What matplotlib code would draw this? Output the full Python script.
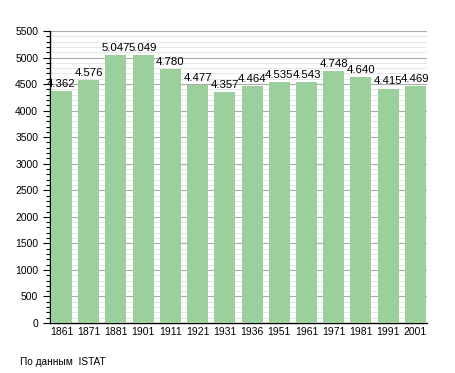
import matplotlib.pyplot as plt
from matplotlib.ticker import MultipleLocator

years = ["1861", "1871", "1881", "1901", "1911", "1921", "1931",
         "1936", "1951", "1961", "1971", "1981", "1991", "2001"]
population = [4362, 4576, 5047, 5049, 4780, 4477, 4357,
              4464, 4535, 4543, 4748, 4640, 4415, 4469]
value_labels = ["4.362", "4.576", "5.047", "5.049", "4.780", "4.477", "4.357",
                "4.464", "4.535", "4.543", "4.748", "4.640", "4.415", "4.469"]

plt.rcParams['font.family'] = ['Liberation Sans', 'DejaVu Sans']

fig = plt.figure(figsize=(4.55, 3.73), dpi=100)
ax = fig.add_axes([0.110, 0.134, 0.828, 0.783])

x = range(len(years))
ax.bar(x, population, width=0.77, color="#9bcf9b", zorder=3)

for i, v in enumerate(population):
    ax.text(i, v + 40, value_labels[i], ha="center", va="bottom", fontsize=8.2, zorder=4)

ax.set_xlim(-0.42, len(years) - 1 + 0.42)
ax.set_ylim(0, 5500)
ax.set_xticks(list(x))
ax.set_xticklabels(years, fontsize=7.5)
ax.yaxis.set_major_locator(MultipleLocator(500))
ax.yaxis.set_minor_locator(MultipleLocator(100))
ax.tick_params(axis="y", labelsize=7.5, length=5, width=0.8, direction="out")
ax.tick_params(axis="y", which="minor", length=3, width=0.8)
ax.tick_params(axis="x", length=0, pad=3)

ax.grid(axis="y", which="major", color="#aaaaaa", linewidth=0.8, zorder=0)
ax.grid(axis="y", which="minor", color="#e2e2e2", linewidth=0.6, zorder=0)

for side in ["top", "right"]:
    ax.spines[side].set_visible(False)
ax.spines["left"].set_linewidth(1.0)
ax.spines["bottom"].set_linewidth(1.0)

fig.text(20 / 455, 1 - 362 / 373, "По данным  ISTAT", fontsize=7.3, va="center", ha="left")

fig.savefig("out.png", dpi=100)
